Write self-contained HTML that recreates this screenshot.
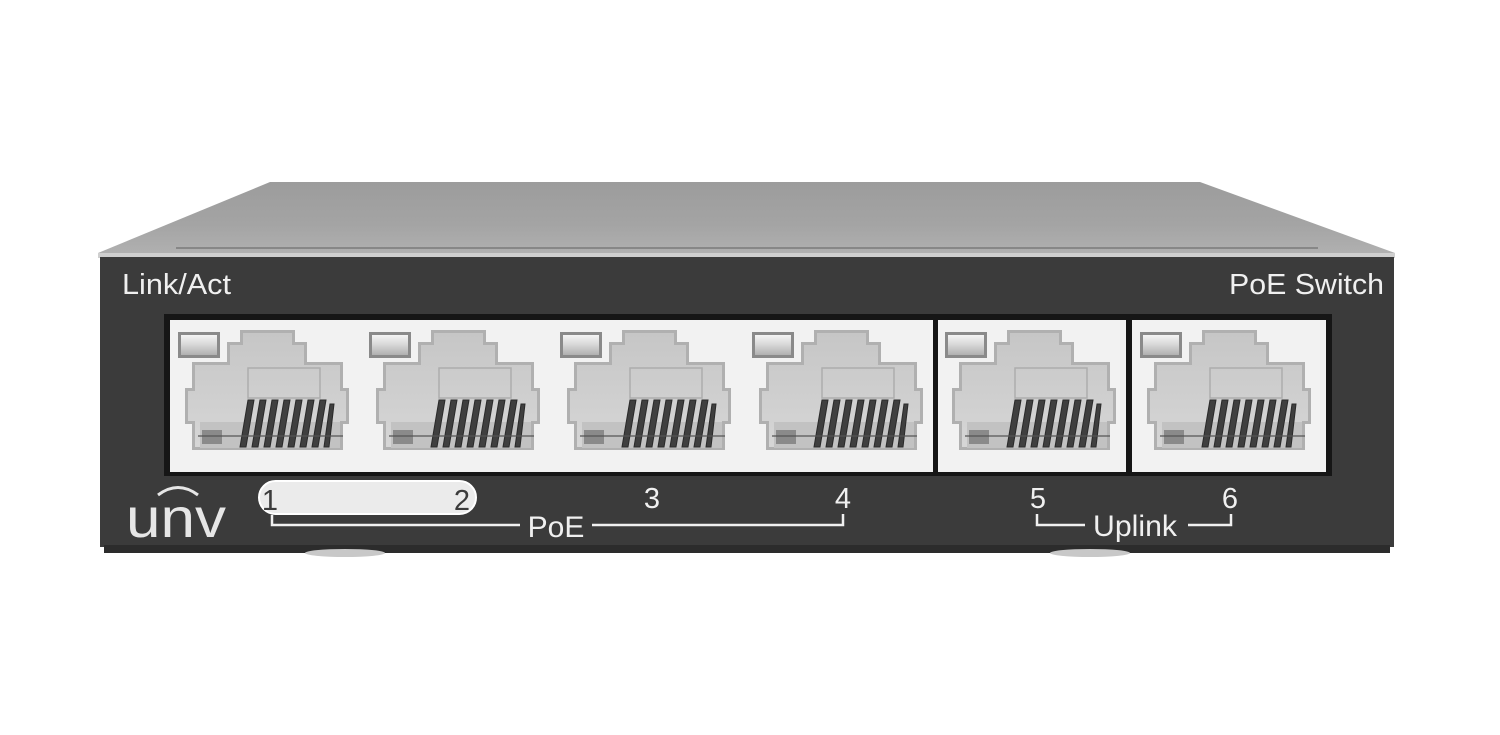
<!DOCTYPE html>
<html><head><meta charset="utf-8"><style>
html,body{margin:0;padding:0;background:#fff;}
svg{display:block;}
text{font-family:"Liberation Sans",Arial,sans-serif;}
</style></head><body>
<svg width="1500" height="735" viewBox="0 0 1500 735" xmlns="http://www.w3.org/2000/svg">
<defs>
<linearGradient id="lid" x1="0" y1="0" x2="0" y2="1">
<stop offset="0" stop-color="#9c9c9c"/><stop offset="0.6" stop-color="#a4a4a4"/><stop offset="1" stop-color="#b0b0b0"/>
</linearGradient>
<linearGradient id="led" x1="0" y1="0" x2="0" y2="1">
<stop offset="0" stop-color="#f4f4f4"/><stop offset="0.5" stop-color="#d6d6d6"/><stop offset="1" stop-color="#b0b0b0"/>
</linearGradient>
<linearGradient id="jack" x1="0" y1="0" x2="0" y2="1">
<stop offset="0" stop-color="#c6c6c6"/><stop offset="1" stop-color="#d6d6d6"/>
</linearGradient>
<g id="port">
<rect x="0" y="0" width="42" height="26" fill="#8a8a8a"/>
<rect x="3" y="3" width="36" height="20" fill="url(#led)"/>
<polygon points="62,-2 117,-2 117,10 129,10 129,30 165,30 165,56 171,56 171,92 165,92 165,118 14,118 14,92 7,92 7,56 14,56 14,30 49,30 49,10 62,10" fill="#b0b0b0"/>
<polygon points="65,1 114,1 114,13 126,13 126,33 162,33 162,59 168,59 168,89 162,89 162,115 17,115 17,89 10,89 10,59 17,59 17,33 52,33 52,13 65,13" fill="url(#jack)"/>
<rect x="70" y="36" width="72" height="30" fill="none" stroke="#adadad" stroke-width="1.5"/>
<rect x="22" y="90" width="140" height="26" fill="#c2c2c2"/>
<rect x="24" y="98" width="20" height="14" fill="#8a8a8a"/>
<g fill="#3f3f3f" stroke="#2a2a2a" stroke-width="1">
<polygon points="62,115 70,68 76,68 68,115"/>
<polygon points="74,115 82,68 88,68 80,115"/>
<polygon points="86,115 94,68 100,68 92,115"/>
<polygon points="98,115 106,68 112,68 104,115"/>
<polygon points="110,115 118,68 124,68 116,115"/>
<polygon points="122,115 130,68 136,68 128,115"/>
<polygon points="134,115 142,68 148,68 140,115"/>
<polygon points="146,115 152,72 156,72 151,115"/>
</g>
<line x1="20" y1="104" x2="165" y2="104" stroke="#555" stroke-width="1.2"/>
</g>
</defs>
<polygon points="270,182 1200,182 1395,253 98,253" fill="url(#lid)"/>
<line x1="176" y1="248" x2="1318" y2="248" stroke="#7a7a7a" stroke-width="1.5"/>
<rect x="98" y="253" width="1297" height="5" fill="#cfcfcf"/>
<rect x="100" y="257" width="1294" height="290" fill="#3b3b3b"/>
<rect x="104" y="545" width="1286" height="8" fill="#2c2c2c"/>
<ellipse cx="345" cy="553" rx="40" ry="4" fill="#c8c8c8"/>
<ellipse cx="1090" cy="553" rx="40" ry="4" fill="#c8c8c8"/>
<rect x="164" y="314" width="1168" height="162" fill="#161616"/>
<rect x="170" y="320" width="763" height="152" fill="#f2f2f2"/>
<rect x="938" y="320" width="188" height="152" fill="#f2f2f2"/>
<rect x="1132" y="320" width="194" height="152" fill="#f2f2f2"/>
<use href="#port" x="178" y="332"/>
<use href="#port" x="369" y="332"/>
<use href="#port" x="560" y="332"/>
<use href="#port" x="752" y="332"/>
<use href="#port" x="945" y="332"/>
<use href="#port" x="1140" y="332"/>
<text x="122" y="294" font-size="29" fill="#f0f0f0" textLength="109" lengthAdjust="spacingAndGlyphs">Link/Act</text>
<text x="1229" y="294" font-size="29" fill="#f0f0f0" textLength="155" lengthAdjust="spacingAndGlyphs">PoE Switch</text>
<rect x="259" y="481" width="217" height="33" rx="16.5" fill="#ebebeb" stroke="#fff" stroke-width="2"/>
<text x="270" y="510" font-size="29" fill="#3b3b3b" text-anchor="middle">1</text>
<text x="462" y="510" font-size="29" fill="#3b3b3b" text-anchor="middle">2</text>
<text x="652" y="508" font-size="29" fill="#f0f0f0" text-anchor="middle">3</text>
<text x="843" y="508" font-size="29" fill="#f0f0f0" text-anchor="middle">4</text>
<text x="1038" y="508" font-size="29" fill="#f0f0f0" text-anchor="middle">5</text>
<text x="1230" y="508" font-size="29" fill="#f0f0f0" text-anchor="middle">6</text>
<g stroke="#f0f0f0" stroke-width="2.5" fill="none">
<polyline points="272,515 272,525 520,525"/>
<polyline points="592,525 843,525 843,514"/>
<polyline points="1037,514 1037,525 1085,525"/>
<polyline points="1188,525 1231,525 1231,514"/>
</g>
<text x="556" y="537" font-size="30" fill="#f0f0f0" text-anchor="middle">PoE</text>
<text x="1135" y="536" font-size="30" fill="#f0f0f0" text-anchor="middle" textLength="84" lengthAdjust="spacingAndGlyphs">Uplink</text>
<text x="176" y="537" font-size="56" fill="#e6e6e6" text-anchor="middle" textLength="100" lengthAdjust="spacingAndGlyphs">unv</text>
<path d="M158,495 Q178,480 198,495" stroke="#e6e6e6" stroke-width="3" fill="none"/>
</svg>
</body></html>
